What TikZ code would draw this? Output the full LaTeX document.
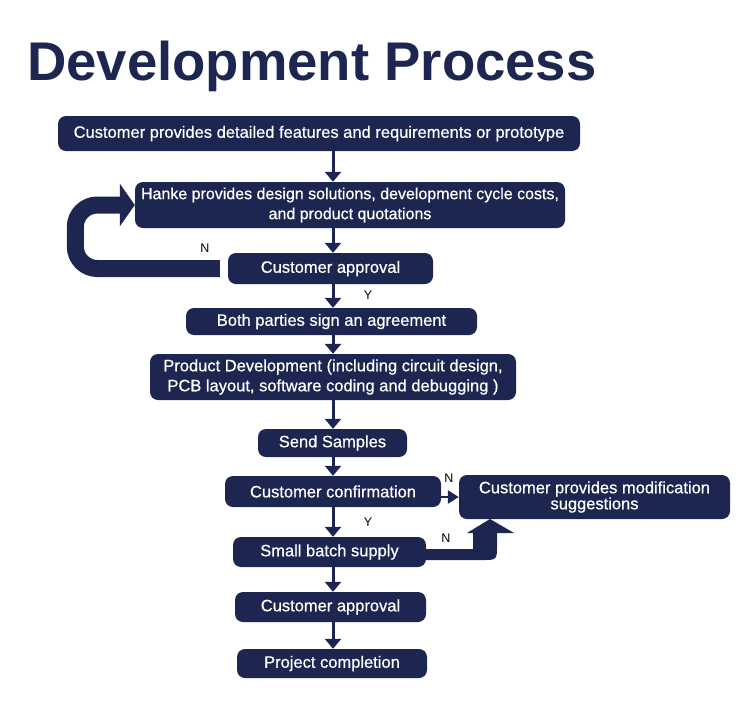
\documentclass[tikz,border=0pt]{standalone}
\usepackage{fontspec}
\setmainfont{Liberation Sans}
\newfontfamily\boxfont{Liberation Sans}[FakeBold=0.6]
\usetikzlibrary{arrows.meta, positioning}
\definecolor{navy}{RGB}{28,38,80}

\begin{document}
\begin{tikzpicture}[x=1pt, y=-1pt,
    stepbox/.style={fill=navy, text=white, rounded corners=8pt, inner sep=0pt, align=center, font=\boxfont\fontsize{16.5}{20}\selectfont},
    flow/.style={navy, line width=3pt, -{Triangle[width=16pt, length=10pt]}},
    yn/.style={text=black, inner sep=0pt, font=\fontsize{12.5}{14}\selectfont}]
\useasboundingbox (0,0) rectangle (750,724);

\node[text=navy, anchor=base west, inner sep=0pt, font=\fontsize{54.5}{60}\selectfont\bfseries] (title) at (27,80) {Development Process};

\node[stepbox, minimum width=522pt, minimum height=35pt] (req) at (319,133.5) {Customer provides detailed features and requirements or prototype};
\node[stepbox, minimum width=430pt, minimum height=46pt, font=\boxfont\fontsize{16}{20}\selectfont] (hanke) at (350,205) {Hanke provides design solutions, development cycle costs,\\ and product quotations};
\node[stepbox, minimum width=205pt, minimum height=31pt] (appr1) at (330.5,268.5) {Customer approval};
\node[stepbox, minimum width=291pt, minimum height=27pt] (sign) at (331.5,321.5) {Both parties sign an agreement};
\node[stepbox, minimum width=366pt, minimum height=46pt] (dev) at (333,377) {Product Development (including circuit design,\\ PCB layout, software coding and debugging )};
\node[stepbox, minimum width=149pt, minimum height=28pt] (samples) at (332.5,443) {Send Samples};
\node[stepbox, minimum width=216pt, minimum height=31pt] (confirm) at (333,491.5) {Customer confirmation};
\node[stepbox, minimum width=271pt, minimum height=44pt, font=\boxfont\fontsize{16.5}{16}\selectfont] (modify) at (594.5,497) {Customer provides modification\\ suggestions};
\node[stepbox, minimum width=193pt, minimum height=30pt] (batch) at (329.5,552) {Small batch supply};
\node[stepbox, minimum width=191pt, minimum height=30pt] (appr2) at (330.5,607) {Customer approval};
\node[stepbox, minimum width=190pt, minimum height=29pt] (done) at (332,663.5) {Project completion};

% main line
\coordinate (spine) at (333,0);
\draw[flow] (req.south -| spine) -- (hanke.north -| spine);
\draw[flow] (hanke.south -| spine) -- (appr1.north -| spine);
\draw[flow] (appr1.south -| spine) -- (sign.north -| spine);
\draw[flow] (sign.south -| spine) -- (dev.north -| spine);
\draw[flow] (dev.south -| spine) -- (samples.north -| spine);
\draw[flow] (samples.south -| spine) -- (confirm.north -| spine);
\draw[flow] (confirm.south -| spine) -- (batch.north -| spine);
\draw[flow] (batch.south -| spine) -- (appr2.north -| spine);
\draw[flow] (appr2.south -| spine) -- (done.north -| spine);

% way back
\draw[navy, line width=17pt, rounded corners=22pt, -{Triangle[width=42pt, length=15pt]}] ([xshift=-8pt]appr1.west) -- ++(-144.5,0) |- (hanke.west);
\draw[navy, line width=2.5pt, -{Triangle[width=13pt, length=11pt]}] (confirm.east |- modify.west) -- (modify.west);
\fill[navy] ([yshift=3pt]batch.east) -- (473,549) -- (473,533) -- (467,533) -- (490,519) -- (514,533) -- (497,533) -- (497,545) .. controls (497,560) .. (482,560) -- ([yshift=-8pt]batch.east) -- cycle;

\node[yn] (n1) at (205,248) {N};
\node[yn] (y1) at (368,295) {Y};
\node[yn] (n2) at (449,478) {N};
\node[yn] (y2) at (368,522) {Y};
\node[yn] (n3) at (446,538) {N};

\end{tikzpicture}
\end{document}
